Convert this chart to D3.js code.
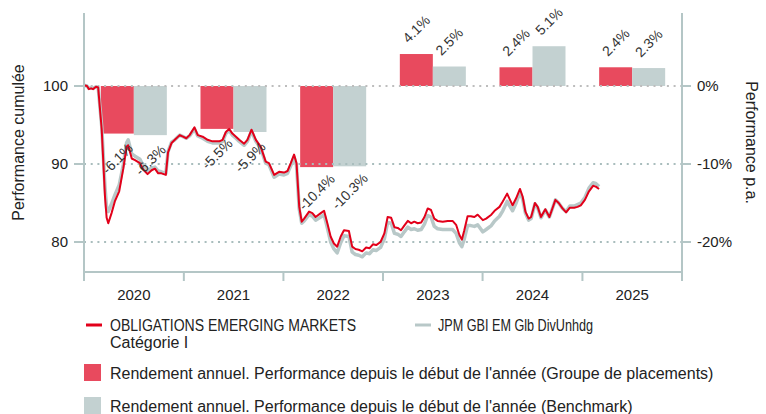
<!DOCTYPE html>
<html>
<head>
<meta charset="utf-8">
<script src="https://cdn.jsdelivr.net/npm/d3@7"></script>
<style>
body { margin: 0; background: #fff; }
svg text { font-family: "Liberation Sans", Arial, sans-serif; fill: #222; }
</style>
</head>
<body>
<svg id="chart" width="766" height="414"></svg>
<script>
// annual returns (bars, right axis)
const years = ["2020", "2021", "2022", "2023", "2024", "2025"];
const fundAnnual = [-6.1, -5.5, -10.4, 4.1, 2.4, 2.4];
const benchAnnual = [-6.3, -5.9, -10.3, 2.5, 5.1, 2.3];

// cumulative performance (lines, left axis)
const dates = [
    "2020-01-01", "2020-01-12", "2020-01-19", "2020-01-27", "2020-02-03", "2020-02-14", "2020-02-22",
    "2020-03-06", "2020-03-18", "2020-03-24", "2020-03-30", "2020-04-11", "2020-04-23", "2020-05-09",
    "2020-05-24", "2020-06-05", "2020-06-11", "2020-06-24", "2020-07-06", "2020-07-24", "2020-08-05",
    "2020-08-21", "2020-09-05", "2020-09-17", "2020-09-29", "2020-10-11", "2020-10-27", "2020-11-04",
    "2020-11-17", "2020-11-29", "2020-12-17", "2020-12-29",
    "2021-01-10", "2021-01-22", "2021-02-09", "2021-02-21", "2021-03-11", "2021-03-29", "2021-04-16",
    "2021-05-11", "2021-05-23", "2021-06-04", "2021-06-16", "2021-06-28", "2021-07-11", "2021-07-23",
    "2021-08-10", "2021-08-22", "2021-09-06", "2021-09-22", "2021-10-10", "2021-10-28", "2021-11-09",
    "2021-11-28", "2021-12-16",
    "2022-01-03", "2022-01-16", "2022-01-28", "2022-02-09", "2022-02-18", "2022-02-28", "2022-03-09",
    "2022-03-18", "2022-04-05", "2022-04-17", "2022-04-29", "2022-05-18", "2022-05-30", "2022-06-11",
    "2022-06-23", "2022-07-05", "2022-07-17", "2022-07-30", "2022-08-11", "2022-08-29", "2022-09-10",
    "2022-09-22", "2022-10-04", "2022-10-17", "2022-10-31", "2022-11-13", "2022-11-25", "2022-12-07",
    "2022-12-23",
    "2023-01-06", "2023-01-18", "2023-01-31", "2023-02-12", "2023-02-24", "2023-03-08", "2023-03-20",
    "2023-04-02", "2023-04-14", "2023-04-26", "2023-05-08", "2023-05-21", "2023-06-02", "2023-06-14",
    "2023-06-26", "2023-07-08", "2023-07-20", "2023-08-08", "2023-08-26", "2023-09-13", "2023-09-26",
    "2023-10-08", "2023-10-17", "2023-10-26", "2023-11-07", "2023-11-19", "2023-12-02", "2023-12-14",
    "2024-01-02", "2024-01-14", "2024-02-02", "2024-02-14", "2024-03-03", "2024-03-15", "2024-03-31",
    "2024-04-08", "2024-04-20", "2024-05-03", "2024-05-17", "2024-05-27", "2024-06-06", "2024-06-18",
    "2024-06-27", "2024-07-11", "2024-07-21", "2024-08-02", "2024-08-18", "2024-09-02", "2024-09-24",
    "2024-10-06", "2024-10-20", "2024-11-02", "2024-11-16", "2024-12-02", "2024-12-14", "2024-12-26",
    "2025-01-10", "2025-01-25", "2025-02-09", "2025-02-19", "2025-03-03"
];
const fundValues = [
    100.1, 100.0, 99.6, 99.7, 99.6, 99.9, 99.8,
    94.4, 85.8, 83.1, 82.4, 83.7, 85.2, 86.5,
    89.4, 92.2, 92.4, 90.7, 90.5, 90.1, 89.3,
    88.7, 89.2, 89.4, 88.8, 88.8, 88.6, 91.5,
    92.7, 93.1, 93.7, 93.5,
    93.3, 93.7, 94.7, 93.7, 93.5, 93.1, 92.9,
    92.9, 93.1, 94.1, 94.5, 93.9, 93.5, 93.1,
    92.6, 93.1, 94.4, 93.1, 92.2, 90.3, 90.1,
    88.6, 89.0,
    88.9, 89.1, 90.1, 91.2, 90.1, 84.5, 82.6,
    83.0, 83.9, 83.7, 83.2, 83.7, 84.0, 82.4,
    80.7, 79.8, 79.4, 80.7, 81.5, 81.4, 79.4,
    79.1, 79.0, 78.8, 79.3, 79.2, 79.7, 79.6,
    80.0,
    81.1, 83.2, 83.1, 81.9, 81.8, 81.5, 82.1,
    82.7, 82.4, 82.6, 82.4, 82.5, 83.2, 84.3,
    84.1, 83.0, 82.7, 82.6, 82.7, 82.7, 82.2,
    80.9, 80.3, 81.5, 83.3, 83.3, 83.2, 83.5,
    82.8, 83.0, 83.5, 84.0, 84.5, 85.2, 86.2,
    85.6, 84.7, 85.6, 86.8, 85.8, 83.9, 83.0,
    83.2, 85.0, 84.5, 83.2, 84.2, 83.2, 85.4,
    85.0, 84.3, 83.8, 84.4, 84.4, 84.5, 84.7,
    85.4, 86.5, 87.2, 87.1, 86.8
];
const benchValues = [
    100.1, 100.0, 99.7, 99.8, 99.7, 99.9, 99.8,
    94.8, 87.0, 84.3, 83.9, 84.9, 86.0, 87.3,
    89.9, 92.7, 93.1, 91.3, 91.0, 90.6, 89.8,
    89.1, 89.5, 89.6, 89.1, 89.0, 88.8, 91.6,
    92.8, 93.1, 93.7, 93.5,
    93.3, 93.6, 94.5, 93.6, 93.3, 92.9, 92.7,
    92.7, 92.9, 93.9, 94.3, 93.7, 93.3, 92.9,
    92.4, 92.9, 94.2, 92.9, 92.0, 90.1, 89.9,
    88.3, 88.7,
    88.6, 88.8, 89.8, 90.9, 89.8, 84.2, 82.4,
    82.7, 83.5, 83.3, 82.8, 83.2, 83.5, 81.8,
    80.0, 79.1, 78.6, 79.9, 80.8, 80.7, 78.7,
    78.4, 78.3, 78.1, 78.6, 78.5, 79.0, 78.9,
    79.3,
    80.4, 82.5, 82.4, 81.1, 81.0, 80.7, 81.3,
    81.9, 81.6, 81.7, 81.5, 81.6, 82.3, 83.4,
    83.2, 82.0, 81.7, 81.6, 81.6, 81.6, 81.1,
    79.9, 79.4, 80.4, 82.1, 82.1, 82.0, 82.2,
    81.3, 81.6, 82.1, 82.7, 83.3, 84.0, 85.2,
    84.7, 84.0, 85.0, 86.4, 85.5, 83.7, 82.8,
    83.0, 84.9, 84.4, 83.1, 84.1, 83.2, 85.4,
    85.0, 84.3, 83.9, 84.6, 84.6, 84.8, 85.0,
    85.7, 86.9, 87.6, 87.5, 87.1
];

const leftTicks = [80, 90, 100];
const rightTicks = [-20, -10, 0];

const fundName = ["OBLIGATIONS EMERGING MARKETS", "Catégorie I"];
const benchName = "JPM GBI EM Glb DivUnhdg";
const barLegend = [
    "Rendement annuel. Performance depuis le début de l'année (Groupe de placements)",
    "Rendement annuel. Performance depuis le début de l'année (Benchmark)"
];

const red = "#e2001a";
const redBar = "#e84a5e";
const grey = "#b8c8c8";
const greyBar = "#c3d1d1";
const axisColor = "#b4c6c6";

const svg = d3.select("#chart");

const plotLeft = 84, plotRight = 682, plotTop = 13, plotBottom = 272;

// scales
const parse = d3.timeParse("%Y-%m-%d");
const x = d3.scaleTime()
    .domain([parse("2020-01-01"), parse("2026-01-01")])
    .range([plotLeft, plotRight]);
const yLeft = d3.scaleLinear()
    .domain([76.15, 109.36])
    .range([plotBottom, plotTop]);
const yRight = d3.scaleLinear()
    .domain([-23.85, 9.36])
    .range([plotBottom, plotTop]);
const xBand = d3.scaleBand()
    .domain(years)
    .range([plotLeft, plotRight]);
const xSub = d3.scaleBand()
    .domain(["fund", "bench"])
    .range([0, xBand.bandwidth()])
    .paddingOuter(0.51);

// bars
const barData = [];
years.forEach((yr, i) => {
    barData.push({year: yr, key: "fund", v: fundAnnual[i]});
    barData.push({year: yr, key: "bench", v: benchAnnual[i]});
});

svg.append("g")
    .selectAll("rect")
    .data(barData)
    .enter()
    .append("rect")
    .attr("x", d => xBand(d.year) + xSub(d.key))
    .attr("width", xSub.bandwidth())
    .attr("y", d => Math.min(yRight(0), yRight(d.v)))
    .attr("height", d => Math.abs(yRight(d.v) - yRight(0)))
    .attr("fill", d => d.key === "fund" ? redBar : greyBar);

// dotted grid lines
svg.append("g")
    .selectAll("line")
    .data(leftTicks)
    .enter()
    .append("line")
    .attr("x1", plotLeft)
    .attr("x2", plotRight)
    .attr("y1", d => yLeft(d))
    .attr("y2", d => yLeft(d))
    .attr("stroke", d => d === 100 ? "#bdbdbd" : "#a9bdbd")
    .attr("stroke-width", 2)
    .attr("stroke-dasharray", "2,4.7");

// lines
const fundSeries = dates.map((d, i) => [parse(d), fundValues[i]]);
const benchSeries = dates.map((d, i) => [parse(d), benchValues[i]]);
const line = d3.line()
    .x(d => x(d[0]))
    .y(d => yLeft(d[1]));

svg.append("path")
    .datum(benchSeries)
    .attr("d", line)
    .attr("fill", "none")
    .attr("stroke", grey)
    .attr("stroke-width", 3.5)
    .attr("stroke-linejoin", "round");
svg.append("path")
    .datum(fundSeries)
    .attr("d", line)
    .attr("fill", "none")
    .attr("stroke", red)
    .attr("stroke-width", 2)
    .attr("stroke-linejoin", "round");

// bar labels, rotated
svg.append("g")
    .selectAll("text")
    .data(barData)
    .enter()
    .append("text")
    .attr("transform", d => {
        let cx = xBand(d.year) + xSub(d.key) + xSub.bandwidth() / 2;
        let cy = yRight(d.v) + (d.v < 0 ? 25 : -25);
        return "translate(" + cx + "," + cy + ") rotate(-45)";
    })
    .attr("text-anchor", "middle")
    .attr("dominant-baseline", "central")
    .style("font-size", "14px")
    .style("fill", "#333")
    .text(d => d.v.toFixed(1) + "%");

// axes
const axes = svg.append("g");
axes.append("line")
    .attr("x1", plotLeft).attr("x2", plotLeft)
    .attr("y1", plotTop).attr("y2", plotBottom)
    .attr("stroke", axisColor).attr("stroke-width", 2);
axes.append("line")
    .attr("x1", plotRight).attr("x2", plotRight)
    .attr("y1", plotTop).attr("y2", plotBottom)
    .attr("stroke", axisColor).attr("stroke-width", 2);
axes.append("line")
    .attr("x1", plotLeft).attr("x2", plotRight)
    .attr("y1", plotBottom).attr("y2", plotBottom)
    .attr("stroke", axisColor).attr("stroke-width", 2);

// left ticks
axes.selectAll(".lt")
    .data(leftTicks)
    .enter()
    .append("line")
    .attr("x1", plotLeft - 10).attr("x2", plotLeft)
    .attr("y1", d => yLeft(d)).attr("y2", d => yLeft(d))
    .attr("stroke", axisColor).attr("stroke-width", 2);
axes.selectAll(".ltl")
    .data(leftTicks)
    .enter()
    .append("text")
    .attr("x", 68)
    .attr("y", d => yLeft(d))
    .attr("dy", "0.35em")
    .attr("text-anchor", "end")
    .style("font-size", "15px")
    .text(d => d);

// right ticks
axes.selectAll(".rt")
    .data(rightTicks)
    .enter()
    .append("line")
    .attr("x1", plotRight).attr("x2", plotRight + 9)
    .attr("y1", d => yRight(d)).attr("y2", d => yRight(d))
    .attr("stroke", axisColor).attr("stroke-width", 2);
axes.selectAll(".rtl")
    .data(rightTicks)
    .enter()
    .append("text")
    .attr("x", 697)
    .attr("y", d => yRight(d))
    .attr("dy", "0.35em")
    .style("font-size", "15px")
    .text(d => d + "%");

// year ticks and labels
const yearEdges = years.map(y => parse(y + "-01-01")).concat([parse("2026-01-01")]);
axes.selectAll(".yt")
    .data(yearEdges)
    .enter()
    .append("line")
    .attr("x1", d => x(d)).attr("x2", d => x(d))
    .attr("y1", plotBottom).attr("y2", plotBottom + 9)
    .attr("stroke", axisColor).attr("stroke-width", 2);
axes.selectAll(".ytl")
    .data(years)
    .enter()
    .append("text")
    .attr("x", d => xBand(d) + xBand.bandwidth() / 2)
    .attr("y", 300)
    .attr("text-anchor", "middle")
    .style("font-size", "15px")
    .text(d => d);

// axis titles
svg.append("text")
    .attr("transform", "translate(24," + ((plotTop + plotBottom) / 2) + ") rotate(-90)")
    .attr("text-anchor", "middle")
    .style("font-size", "16px")
    .text("Performance cumulée");
svg.append("text")
    .attr("transform", "translate(746," + ((plotTop + plotBottom) / 2) + ") rotate(90)")
    .attr("text-anchor", "middle")
    .style("font-size", "16px")
    .text("Performance p.a.");

// legend (caps-heavy labels squeezed to the narrow original widths)
const legend = svg.append("g").style("font-size", "16px");
legend.append("line")
    .attr("x1", 86).attr("x2", 102).attr("y1", 325).attr("y2", 325)
    .attr("stroke", red).attr("stroke-width", 3);
legend.append("text").attr("x", 110).attr("y", 331)
    .attr("textLength", 246).attr("lengthAdjust", "spacingAndGlyphs")
    .text(fundName[0]);
legend.append("text").attr("x", 110).attr("y", 348).text(fundName[1]);
legend.append("line")
    .attr("x1", 415).attr("x2", 431).attr("y1", 325).attr("y2", 325)
    .attr("stroke", grey).attr("stroke-width", 3);
legend.append("text").attr("x", 438).attr("y", 331)
    .attr("textLength", 155).attr("lengthAdjust", "spacingAndGlyphs")
    .text(benchName);

legend.append("rect")
    .attr("x", 84).attr("y", 364).attr("width", 17).attr("height", 17)
    .attr("fill", redBar);
legend.append("text").attr("x", 110).attr("y", 379).text(barLegend[0]);
legend.append("rect")
    .attr("x", 84).attr("y", 397).attr("width", 17).attr("height", 17)
    .attr("fill", greyBar);
legend.append("text").attr("x", 110).attr("y", 412).text(barLegend[1]);
</script>
</body>
</html>
